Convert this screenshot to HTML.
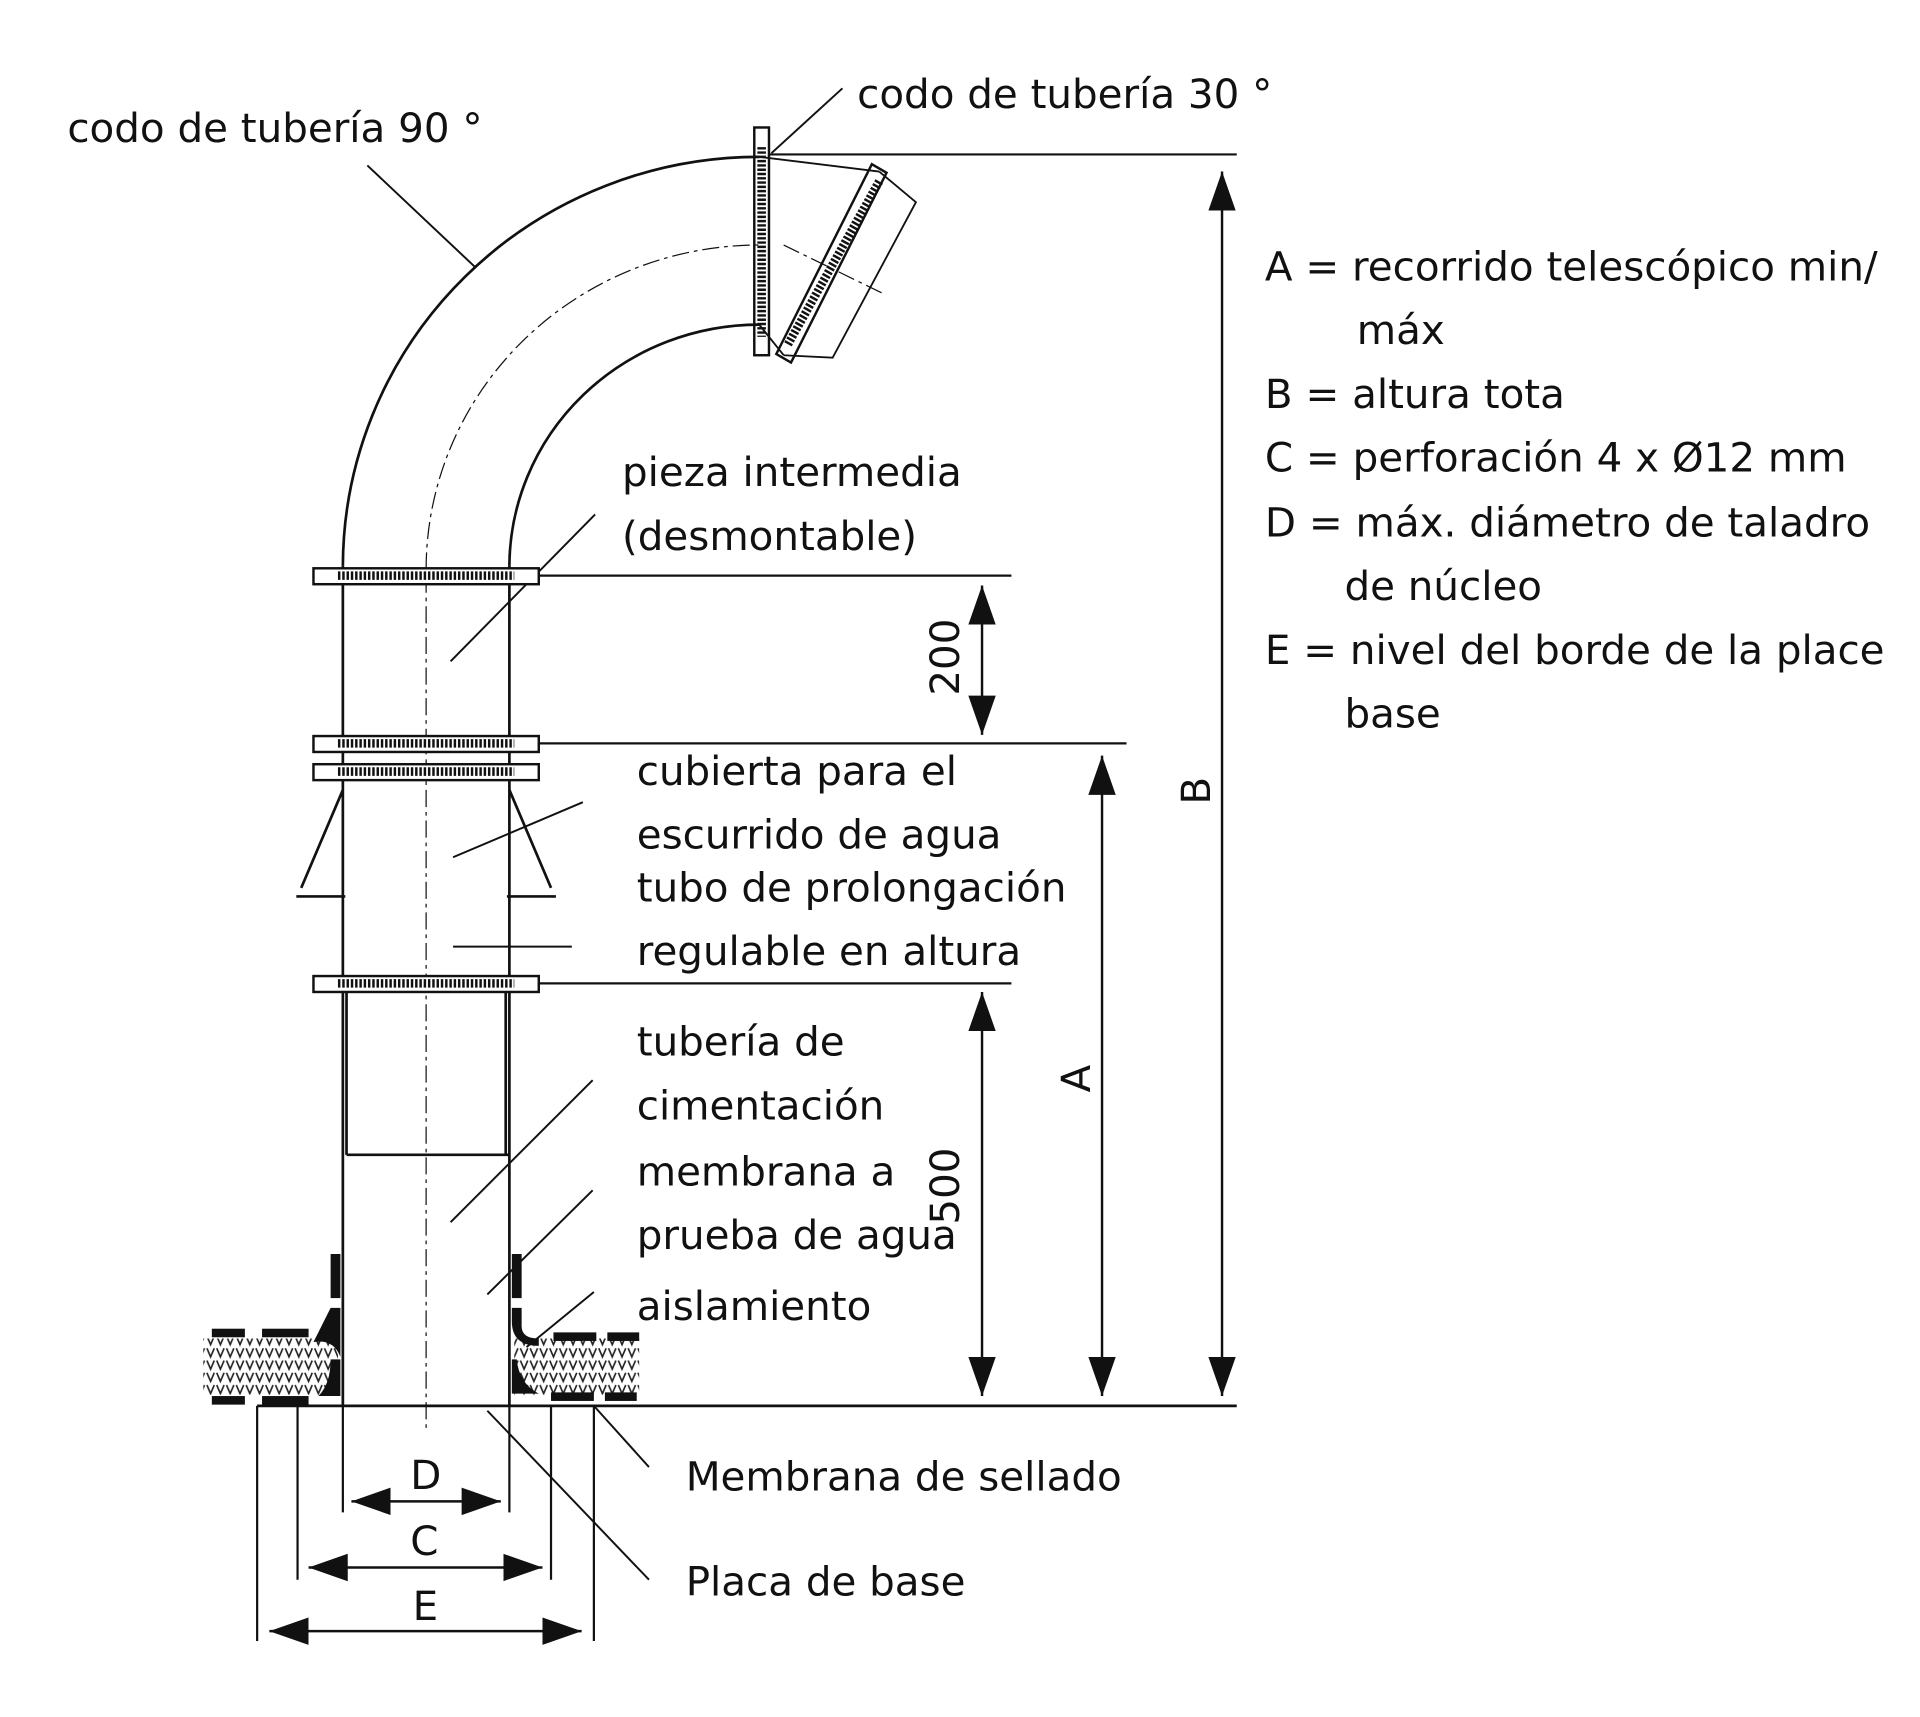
<!DOCTYPE html>
<html><head><meta charset="utf-8"><style>
html,body{margin:0;padding:0;background:#fff}
svg{display:block}
text{font-family:"DejaVu Sans","Liberation Sans",sans-serif;font-size:33px;fill:#111}
</style></head><body>
<svg width="1920" height="1717" viewBox="0 0 1568 1402" xmlns="http://www.w3.org/2000/svg">
<defs>
<marker id="ar" viewBox="0 0 10 10" refX="10" refY="5" markerWidth="32" markerHeight="32" markerUnits="userSpaceOnUse" orient="auto-start-reverse"><path d="M0,1.5 L10,5 L0,8.5 z" fill="#111"/></marker>
<pattern id="hat" width="8" height="10" patternUnits="userSpaceOnUse"><path d="M1,1 L4,8 L7,1" fill="none" stroke="#222" stroke-width="1.3"/></pattern>
</defs>
<g fill="none" stroke="#111" stroke-width="2.2">
<!-- elbow -->
<path d="M280,462 A340,335 0 0 1 620,128"/>
<path d="M416,462 A204,198 0 0 1 620,265"/>
<path d="M348,465 A272,265 0 0 1 620,200" stroke-width="1" stroke-dasharray="14,4,3,4"/>
<path d="M620,128 L718,140 M620,265 L640,290" stroke-width="1.5"/>
<path d="M718,140 L748,165 L680,292 L640,290" stroke-width="1.5"/>
<path d="M640,200 L722,240" stroke-width="1" stroke-dasharray="14,4,3,4"/>
<!-- flanges 30 -->
<rect x="616" y="104" width="12" height="186" stroke-width="2"/>
<line x1="622" y1="120" x2="622" y2="275" stroke-width="7" stroke-dasharray="2,1.5"/>
<path d="M712,134 L724,141 L646,296 L634,289 Z" stroke-width="2"/>
<line x1="718" y1="148" x2="643" y2="282" stroke-width="7" stroke-dasharray="2,1.5"/>
<!-- pipes -->
<line x1="280" y1="462" x2="280" y2="1148"/>
<line x1="416" y1="462" x2="416" y2="1148"/>
<line x1="283" y1="810" x2="283" y2="943"/>
<line x1="413" y1="810" x2="413" y2="943"/>
<line x1="283" y1="943" x2="416" y2="943"/>
<line x1="348" y1="470" x2="348" y2="1170" stroke-width="1" stroke-dasharray="14,4,3,4"/>
<!-- cone -->
<path d="M280,645 L246,725 M242,732 L282,732 M416,645 L450,725 M414,732 L454,732"/>
<!-- base -->
<line x1="210" y1="1148" x2="1010" y2="1148"/>
<path d="M210,1148 V1340 M243,1148 V1290 M280,1148 V1235 M416,1148 V1235 M450,1148 V1290 M485,1148 V1340" stroke-width="1.8"/>
<!-- top ext lines -->
<line x1="628" y1="126" x2="1010" y2="126" stroke-width="1.8"/>
<line x1="440" y1="470" x2="826" y2="470" stroke-width="1.8"/>
<line x1="440" y1="607" x2="920" y2="607" stroke-width="1.8"/>
<line x1="440" y1="803" x2="826" y2="803" stroke-width="1.8"/>
<!-- dimensions -->
<g stroke-width="2" marker-start="url(#ar)" marker-end="url(#ar)">
<line x1="998" y1="140" x2="998" y2="1140"/>
<line x1="900" y1="617" x2="900" y2="1140"/>
<line x1="802" y1="478" x2="802" y2="600"/>
<line x1="802" y1="810" x2="802" y2="1140"/>
<line x1="287" y1="1226" x2="409" y2="1226"/>
<line x1="252" y1="1280" x2="443" y2="1280"/>
<line x1="220" y1="1332" x2="475" y2="1332"/>
</g>
<!-- leaders -->
<g stroke-width="1.6">
<line x1="300" y1="135" x2="388" y2="218"/>
<line x1="630" y1="125" x2="688" y2="72"/>
<line x1="368" y1="540" x2="486" y2="420"/>
<line x1="370" y1="700" x2="476" y2="655"/>
<line x1="370" y1="773" x2="467" y2="773"/>
<line x1="368" y1="998" x2="484" y2="882"/>
<line x1="398" y1="1057" x2="484" y2="972"/>
<line x1="430" y1="1100" x2="485" y2="1055"/>
<line x1="398" y1="1152" x2="530" y2="1290"/>
<line x1="485" y1="1148" x2="530" y2="1198"/>
</g>
</g>
<!-- flange bars -->
<g stroke="#111" stroke-width="2" fill="#fff">
<rect x="256" y="464" width="184" height="13"/>
<rect x="256" y="601" width="184" height="13"/>
<rect x="256" y="624" width="184" height="13"/>
<rect x="256" y="797" width="184" height="13"/>
</g>
<g stroke="#111" stroke-width="7" stroke-dasharray="2,1.5">
<line x1="276" y1="470" x2="420" y2="470"/>
<line x1="276" y1="607" x2="420" y2="607"/>
<line x1="276" y1="630" x2="420" y2="630"/>
<line x1="276" y1="803" x2="420" y2="803"/>
</g>
<!-- insulation -->
<rect x="166" y="1093" width="110" height="46" fill="url(#hat)"/>
<rect x="420" y="1093" width="102" height="46" fill="url(#hat)"/>
<g fill="#111">
<rect x="173" y="1085" width="27" height="7"/><rect x="214" y="1085" width="38" height="7"/>
<rect x="173" y="1140" width="27" height="7"/><rect x="214" y="1140" width="38" height="7"/>
<rect x="452" y="1088" width="35" height="7"/><rect x="496" y="1088" width="26" height="7"/>
<rect x="450" y="1137" width="35" height="7"/><rect x="494" y="1137" width="26" height="7"/>
<rect x="270" y="1024" width="8" height="36"/><rect x="418" y="1024" width="8" height="36"/>
<path d="M270,1068 h8 v40 q-6,-15 -22,-12 z M418,1068 h8 v15 q0,10 14,10 v6 q-22,0 -22,-20 z"/>
<path d="M270,1110 h8 v30 h-18 q10,-10 10,-30 z M418,1110 h4 q2,20 18,28 h-22 z"/>
</g>
<!-- text -->
<text x="55" y="116">codo de tubería 90 °</text>
<text x="700" y="88">codo de tubería 30 °</text>
<text x="1033" y="229">A = recorrido telescópico min/</text>
<text x="1108" y="281">máx</text>
<text x="1033" y="333">B = altura tota</text>
<text x="1033" y="385">C = perforación 4 x Ø12 mm</text>
<text x="1033" y="438">D = máx. diámetro de taladro</text>
<text x="1098" y="490">de núcleo</text>
<text x="1033" y="542">E = nivel del borde de la place</text>
<text x="1098" y="594">base</text>
<text x="508" y="397">pieza intermedia</text>
<text x="508" y="449">(desmontable)</text>
<text x="520" y="641">cubierta para el</text>
<text x="520" y="693">escurrido  de agua</text>
<text x="520" y="736">tubo de prolongación</text>
<text x="520" y="788">regulable en altura</text>
<text x="520" y="862">tubería de</text>
<text x="520" y="914">cimentación</text>
<text x="520" y="968">membrana a</text>
<text x="520" y="1020">prueba de agua</text>
<text x="520" y="1078">aislamiento</text>
<text x="560" y="1217">Membrana de sellado</text>
<text x="560" y="1303">Placa de base</text>
<text x="335" y="1216">D</text>
<text x="335" y="1270">C</text>
<text x="337" y="1323">E</text>
<text transform="translate(783,568) rotate(-90)">200</text>
<text transform="translate(783,1000) rotate(-90)">500</text>
<text transform="translate(890,892) rotate(-90)">A</text>
<text transform="translate(988,657) rotate(-90)">B</text>
</svg>
</body></html>
